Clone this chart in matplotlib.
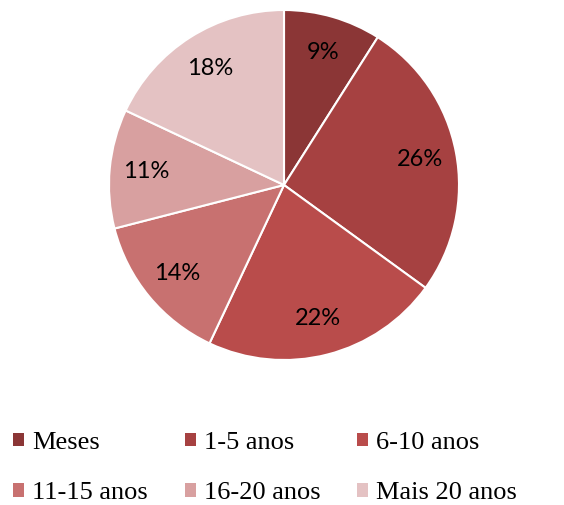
import matplotlib
matplotlib.use("Agg")
import matplotlib.pyplot as plt
from matplotlib.patches import Patch

categories = ["Meses", "1-5 anos", "6-10 anos", "11-15 anos", "16-20 anos", "Mais 20 anos"]
values = [9, 26, 22, 14, 11, 18]
colors = ["#8B3636", "#A64141", "#B94C4B", "#C87170", "#D8A0A0", "#E4C2C3"]

W, H = 564, 505
fig = plt.figure(figsize=(W / 100, H / 100), dpi=100)
cx, cy, r = 284, 185, 175
ax = fig.add_axes([(cx - r) / W, 1 - (cy + r) / H, 2 * r / W, 2 * r / H])
wedges, texts, autotexts = ax.pie(
    values, colors=colors, startangle=90, counterclock=False,
    autopct=lambda p: f"{p:.0f}%", pctdistance=0.79, radius=1,
    wedgeprops=dict(edgecolor="white", linewidth=1.5),
    textprops=dict(family=["Lato", "DejaVu Sans"], fontsize=17, color="black"),
)
ax.set_xlim(-1, 1)
ax.set_ylim(-1, 1)
ax.set_aspect("equal")
ax.axis("off")

handles = [Patch(facecolor=c, edgecolor="none") for c in colors]
# reorder for row-major layout with 3 columns
order = [0, 3, 1, 4, 2, 5]
leg = fig.legend([handles[i] for i in order], [categories[i] for i in order],
                 ncol=3, loc="upper left", bbox_to_anchor=(5 / W, 1 - 424 / H),
                 frameon=False, prop=dict(family="Liberation Serif", size=19),
                 handlelength=0.42, handleheight=0.42, handletextpad=0.3,
                 columnspacing=1.4, labelspacing=1.07, borderaxespad=0, borderpad=0.3)
fig.savefig("out.png", dpi=100, facecolor="white")
